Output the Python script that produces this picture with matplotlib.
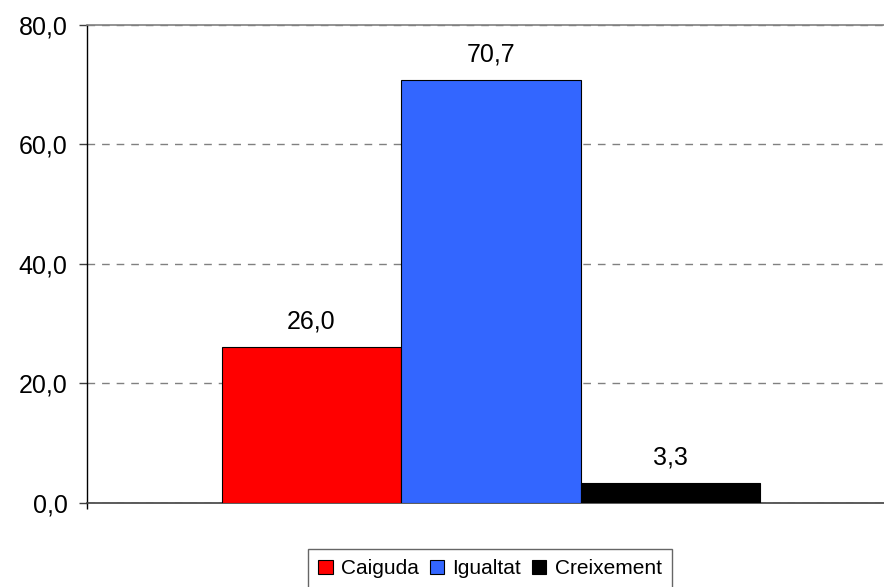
import matplotlib.pyplot as plt

# dades
categories = ['Caiguda', 'Igualtat', 'Creixement']
values = [26.0, 70.7, 3.3]
colors = ['#FF0000', '#3366FF', '#000000']
yticks = [0, 20, 40, 60, 80]

plt.rcParams['font.family'] = ['Liberation Sans', 'DejaVu Sans']

fig = plt.figure(figsize=(8.84, 5.87), dpi=100)
W, H = 884.0, 587.0
# the plot area runs a bit past the right edge, as in the original crop
ax = fig.add_axes([87 / W, 1 - 502.7 / H, 808 / W, 478.2 / H])

x = list(range(len(values)))
bars = ax.bar(x, values, width=1.0, color=colors, edgecolor='black',
              linewidth=0.8, label=categories, zorder=3)

for xi, v in zip(x, values):
    ax.annotate(('%.1f' % v).replace('.', ','), (xi, v),
                xytext=(0, 13.5), textcoords='offset points',
                ha='center', va='baseline', fontsize=18)

ax.set_xlim(-1.25, 3.25)
ax.set_ylim(0, 80)
ax.set_yticks(yticks)
ax.set_yticklabels([('%.1f' % t).replace('.', ',') for t in yticks], fontsize=18)
ax.tick_params(axis='y', direction='out', length=6, width=1, pad=8, color='#404040')
ax.set_xticks([-1.25])
ax.set_xticklabels([])
ax.tick_params(axis='x', direction='out', length=4, width=1, color='black')

ax.yaxis.grid(True, color='#808080', linestyle=(0, (5.5, 5)), linewidth=1.0, zorder=0)
ax.set_axisbelow(True)

ax.spines['right'].set_visible(False)
ax.spines['top'].set_color('#808080')
ax.spines['top'].set_linewidth(1.2)
ax.spines['left'].set_color('black')
ax.spines['left'].set_linewidth(1.0)
ax.spines['bottom'].set_color('#404040')
ax.spines['bottom'].set_linewidth(1.2)

leg = fig.legend(handles=bars.patches, labels=categories, loc='upper center',
                 bbox_to_anchor=(490 / W, 1 - 549 / H), ncol=3, fontsize=15,
                 frameon=True, fancybox=False, shadow=False,
                 handlelength=0.7, handleheight=0.7, handletextpad=0.4,
                 columnspacing=0.5, borderpad=0.5, borderaxespad=0)
leg.get_frame().set_edgecolor('#404040')
leg.get_frame().set_linewidth(1.0)

fig.savefig('out.png', dpi=100)
